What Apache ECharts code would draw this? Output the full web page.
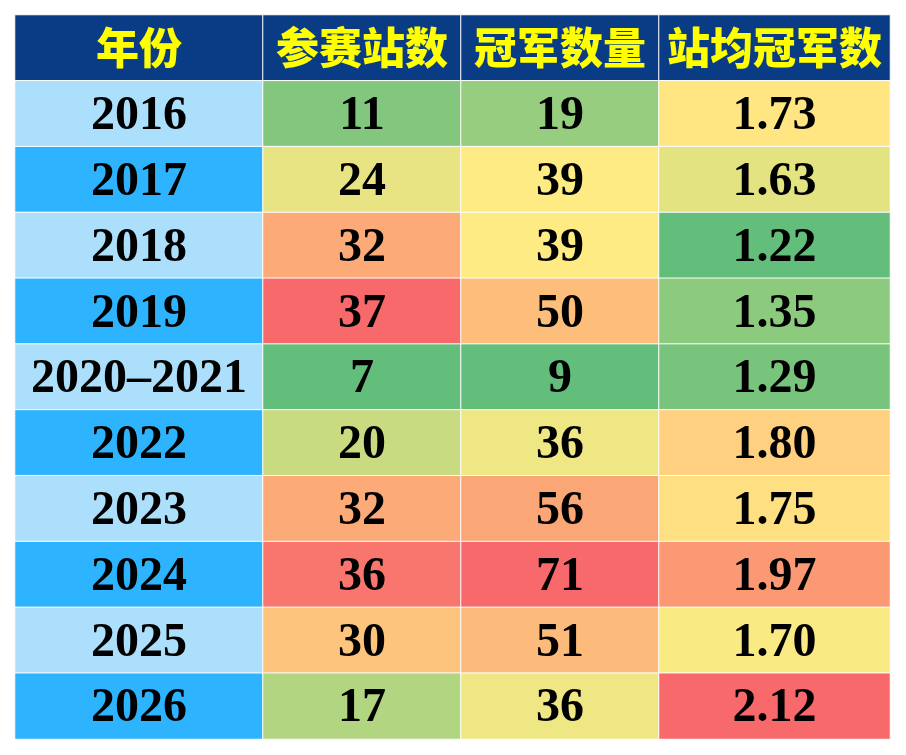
<!DOCTYPE html>
<html>
<head>
<meta charset="utf-8">
<script src="https://cdn.jsdelivr.net/npm/echarts@6/dist/echarts.min.js"></script>
<style>
    html, body { margin: 0; padding: 0; background: #fff; }
    #main { width: 906px; height: 755px; }
</style>
</head>
<body>
<div id="main"></div>
<script>
    // 表头
    var headers = ['年份', '参赛站数', '冠军数量', '站均冠军数'];
    var years = ['2016', '2017', '2018', '2019', '2020–2021', '2022', '2023', '2024', '2025', '2026'];
    var stations = [11, 24, 32, 37, 7, 20, 32, 36, 30, 17];
    var titles = [19, 39, 39, 50, 9, 36, 56, 71, 51, 36];
    var perStation = [1.73, 1.63, 1.22, 1.35, 1.29, 1.80, 1.75, 1.97, 1.70, 2.12];

    var GREEN = [99, 190, 123], YELLOW = [255, 235, 132], RED = [248, 105, 107];

    function median(arr) {
        var s = arr.slice().sort(function (a, b) { return a - b; });
        var n = s.length;
        return n % 2 ? s[(n - 1) / 2] : (s[n / 2 - 1] + s[n / 2]) / 2;
    }
    function mix(a, b, t) {
        return 'rgb(' + [0, 1, 2].map(function (i) {
            return Math.round(a[i] + (b[i] - a[i]) * t);
        }).join(',') + ')';
    }
    // 三色刻度：最小绿、中位数黄、最大红
    function scaleColor(arr) {
        var min = Math.min.apply(null, arr), max = Math.max.apply(null, arr), mid = median(arr);
        return function (v) {
            if (v <= mid) return mix(GREEN, YELLOW, mid === min ? 1 : (v - min) / (mid - min));
            return mix(YELLOW, RED, (v - mid) / (max - mid));
        };
    }

    var rowCats = ['header'].concat(years);
    var columns = [
        { left: 15, width: 248, values: years },
        { left: 263, width: 198, values: stations, digits: 0 },
        { left: 461, width: 198, values: titles, digits: 0 },
        { left: 659, width: 231, values: perStation, digits: 2 }
    ];

    var grids = [], xAxes = [], yAxes = [], series = [];
    columns.forEach(function (col, ci) {
        grids.push({ left: col.left, width: col.width, top: 15, bottom: 16 });
        xAxes.push({ type: 'category', gridIndex: ci, data: [headers[ci]], show: false });
        yAxes.push({ type: 'category', gridIndex: ci, data: rowCats, inverse: true, show: false });
        var colorOf = ci > 0 ? scaleColor(col.values) : null;
        var data = [{
            value: [0, 0, 0],
            itemStyle: { color: '#0a3c86' },
            label: {
                color: '#ffff00',
                fontFamily: '"Noto Sans CJK SC"',
                fontWeight: 900,
                fontSize: 43,
                offset: [0, 0]
            }
        }];
        col.values.forEach(function (v, i) {
            data.push({
                value: [0, i + 1, ci > 0 ? v : 0],
                itemStyle: { color: ci > 0 ? colorOf(v) : (i % 2 ? '#2eb4ff' : '#acdffb') }
            });
        });
        series.push({
            type: 'heatmap',
            xAxisIndex: ci,
            yAxisIndex: ci,
            data: data,
            itemStyle: { borderColor: '#ffffff', borderWidth: 1 },
            label: {
                show: true,
                color: '#000',
                fontFamily: '"Liberation Serif", serif',
                fontWeight: 'bold',
                fontSize: 48,
                offset: [0, 3],
                formatter: function (p) {
                    if (p.dataIndex === 0) return headers[ci];
                    var v = col.values[p.dataIndex - 1];
                    return ci === 0 ? v : v.toFixed(col.digits);
                }
            },
            emphasis: { disabled: true }
        });
    });

    var myChart = echarts.init(document.getElementById('main'));
    myChart.setOption({
        backgroundColor: '#ffffff',
        animation: false,
        grid: grids,
        xAxis: xAxes,
        yAxis: yAxes,
        series: series
    });
</script>
</body>
</html>
